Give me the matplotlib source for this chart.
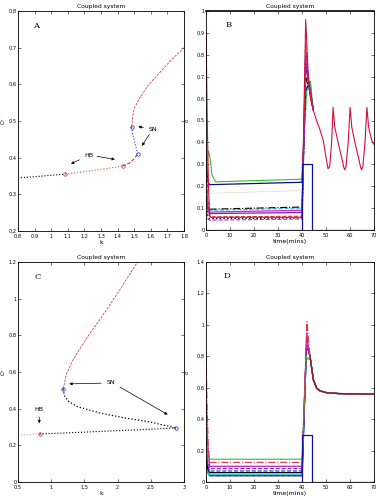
import matplotlib
matplotlib.use('Agg')
import matplotlib.pyplot as plt
import numpy as np

plt.rcParams['font.family'] = ['DejaVu Sans']

# ---------------- panel A : bifurcation in k ----------------
kA_low = [0.8, 0.9, 1.0, 1.086]
cA_low = [0.345, 0.348, 0.352, 0.355]
kA_mid = [1.086, 1.2, 1.3, 1.43]
cA_mid = [0.355, 0.362, 0.368, 0.377]
kA_stab = [1.43, 1.47, 1.50, 1.52]
cA_stab = [0.377, 0.385, 0.397, 0.41]
kA_uns = [1.52, 1.505, 1.49, 1.485]
cA_uns = [0.41, 0.44, 0.465, 0.484]
kA_up = [1.485, 1.49, 1.50, 1.53, 1.58, 1.65, 1.72, 1.8]
cA_up = [0.484, 0.51, 0.535, 0.56, 0.595, 0.63, 0.665, 0.70]
kA_hb = [1.086, 1.43]
cA_hb = [0.355, 0.377]
kA_sn = [1.52, 1.485]
cA_sn = [0.41, 0.484]

# ---------------- panel C : bifurcation in k ----------------
kC_low1 = [0.5, 0.827]
cC_low1 = [0.256, 0.262]
kC_low2 = [0.827, 1.5, 2.0, 2.5, 2.88]
cC_low2 = [0.262, 0.272, 0.28, 0.288, 0.295]
kC_mid = [1.18, 1.2, 1.26, 1.4, 1.75, 2.1, 2.49, 2.88]
cC_mid = [0.507, 0.47, 0.44, 0.41, 0.375, 0.35, 0.327, 0.295]
kC_up = [1.18, 1.23, 1.32, 1.45, 1.6, 1.75, 2.0, 2.3]
cC_up = [0.507, 0.59, 0.66, 0.737, 0.82, 0.895, 1.03, 1.2]
kC_hb = [0.827]
cC_hb = [0.262]
kC_sn = [1.18, 2.88]
cC_sn = [0.507, 0.295]

# ---------------- panel B : time courses ----------------
tB_tail = [44.6, 46, 47.5, 48.8, 50, 50.8, 51.5, 52.3, 52.9, 53.6, 55, 56.5,
           57.4, 57.8, 58.3, 59.2, 60, 60.7, 62, 63.5, 64.4, 64.8, 65.3, 66.2,
           67, 67.7, 69, 70]
cB_tail = [0.55, 0.5, 0.456, 0.41, 0.33, 0.28, 0.29, 0.40, 0.56, 0.47, 0.40,
           0.33, 0.285, 0.275, 0.29, 0.40, 0.56, 0.47, 0.40, 0.33, 0.285, 0.275,
           0.29, 0.40, 0.56, 0.47, 0.41, 0.39]

tB_red = [0, 0.5, 1, 1.5, 2, 40, 40.7, 41.5, 42.5, 43.5]
cB_red = [0.9, 0.5, 0.2, 0.07, 0.058, 0.058, 0.5, 0.96, 0.72, 0.60]
tB_green = [0, 1, 1.5, 2.5, 4, 40, 41, 42, 43.5, 44.6]
cB_green = [0.28, 0.36, 0.34, 0.25, 0.22, 0.232, 0.45, 0.65, 0.68, 0.55]
tB_navy = [0, 0.7, 1.5, 40, 40.3, 41.5, 43, 44.6]
cB_navy = [0.35, 0.22, 0.207, 0.218, 0.3, 0.64, 0.67, 0.55]
tB_faint = [2, 40]
cB_faint = [0.168, 0.18]
tB_cyan = [0, 1, 1.5, 40, 41.5, 43, 44.6]
cB_cyan = [0.06, 0.08, 0.09, 0.1, 0.62, 0.66, 0.55]
tB_black = [0, 1, 1.5, 40, 41.5, 43, 44.6]
cB_black = [0.2, 0.1, 0.095, 0.105, 0.7, 0.64, 0.55]
tB_mag = [0, 0.8, 1.5, 40, 41.5, 43, 44.6]
cB_mag = [0.25, 0.1, 0.082, 0.09, 0.8, 0.65, 0.55]
tB_purp = [0, 0.8, 1.5, 40, 41.5, 43, 44.6]
cB_purp = [0.15, 0.09, 0.075, 0.08, 0.75, 0.65, 0.55]
tB_redd = [0, 0.8, 1.5, 40, 41.5, 43, 44.6]
cB_redd = [0.4, 0.1, 0.06, 0.063, 0.85, 0.65, 0.55]
tB_blkd = [0, 0.8, 1.5, 40, 41.5, 43, 44.6]
cB_blkd = [0.12, 0.06, 0.052, 0.055, 0.8, 0.65, 0.55]
tB_magd = [0, 0.8, 1.5, 40, 41.5, 43, 44.6]
cB_magd = [0.08, 0.05, 0.045, 0.05, 0.8, 0.65, 0.55]

t_stim = [0, 40, 40, 44, 44, 70]
c_stim = [0, 0, 0.3, 0.3, 0, 0]

# ---------------- panel D : time courses ----------------
tD_tail = [43.3, 44.7, 46.1, 47.5, 50.3, 55, 60, 70]
cD_tail = [0.80, 0.65, 0.596, 0.58, 0.568, 0.563, 0.561, 0.56]

tD_red = [0, 0.5, 1, 1.5, 40, 42]
cD_red = [0.8, 0.45, 0.2, 0.125, 0.125, 1.02]
tD_green = [0, 1, 1.5, 40, 41.7, 42.5]
cD_green = [0.2, 0.16, 0.145, 0.145, 0.8, 0.78]
tD_mag = [0, 0.6, 1.5, 40, 42, 42.6]
cD_mag = [0.6, 0.25, 0.10, 0.10, 0.95, 0.85]
tD_purp = [0, 0.8, 1.5, 40, 41.8, 42.6]
cD_purp = [0.3, 0.12, 0.085, 0.085, 0.9, 0.85]
tD_navyd = [0, 0.8, 1.5, 40, 41.8, 42.6]
cD_navyd = [0.25, 0.1, 0.07, 0.07, 0.88, 0.85]
tD_black = [0, 0.8, 1.5, 40, 41.8, 42.6]
cD_black = [0.15, 0.08, 0.06, 0.06, 0.85, 0.84]
tD_cyan = [0, 0.8, 1.5, 40, 41.8, 42.6]
cD_cyan = [0.1, 0.06, 0.05, 0.05, 0.85, 0.84]
tD_cyand = [0, 0.8, 1.5, 40, 41.8, 42.6]
cD_cyand = [0.09, 0.05, 0.045, 0.045, 0.85, 0.84]
tD_navy = [0, 0.8, 1.5, 40, 41.8, 42.6]
cD_navy = [0.12, 0.06, 0.04, 0.04, 0.85, 0.84]

fig = plt.figure(figsize=(3.76, 5.0), dpi=100)
axA = fig.add_axes([0.0479, 0.538, 0.4415, 0.440])
axB = fig.add_axes([0.548, 0.540, 0.447, 0.438])
axC = fig.add_axes([0.0479, 0.036, 0.4415, 0.440])
axD = fig.add_axes([0.548, 0.036, 0.447, 0.440])

fs = 3.6
for ax in (axA, axB, axC, axD):
    ax.tick_params(direction='in', length=2, width=0.4, labelsize=fs, pad=1,
                   top=True, right=True)
    ax.tick_params(axis='x', pad=2.2)
    for s in ax.spines.values():
        s.set_linewidth(0.6)
    ax.set_title('Coupled system', fontsize=4.3, pad=2)

# panel A
axA.plot(kA_low, cA_low, ':', color='black', lw=0.8)
axA.plot(kA_mid, cA_mid, ':', color='#c06060', lw=0.8)
axA.plot(kA_stab, cA_stab, '--', color='#d02020', lw=0.7)
axA.plot(kA_uns, cA_uns, ':', color='#2040a0', lw=0.8)
axA.plot(kA_up, cA_up, '--', color='#d02020', lw=0.5)
axA.plot(kA_hb, cA_hb, 'o', mfc='none', mec='#d02020', ms=2.5, mew=0.5)
axA.plot(kA_sn, cA_sn, 'o', mfc='none', mec='#2020c0', ms=2.5, mew=0.5)
arr = dict(arrowstyle='-|>', color='black', lw=0.5, mutation_scale=4)
axA.annotate('HB', xy=(1.104, 0.38), xytext=(1.229, 0.407), fontsize=4.5,
             ha='center', va='center', arrowprops=arr)
axA.annotate('', xy=(1.40, 0.394), xytext=(1.26, 0.405), arrowprops=arr)
axA.annotate('SN', xy=(1.508, 0.486), xytext=(1.615, 0.478), fontsize=4.5,
             ha='center', va='center', arrowprops=arr)
axA.annotate('', xy=(1.538, 0.426), xytext=(1.60, 0.47), arrowprops=arr)
axA.text(0.907, 0.76, 'A', fontsize=6, family='serif', ha='center', va='center')
axA.set_xlim(0.8, 1.8)
axA.set_ylim(0.2, 0.8)
axA.set_xticks(np.arange(0.8, 1.81, 0.1))
axA.set_xticklabels(['0.8', '0.9', '1', '1.1', '1.2', '1.3', '1.4', '1.5', '1.6', '1.7', '1.8'])
axA.set_yticks(np.arange(0.2, 0.81, 0.1))
axA.set_yticklabels(['0.2', '0.3', '0.4', '0.5', '0.6', '0.7', '0.8'])
axA.set_xlabel('k', fontsize=4.5, labelpad=1)
axA.set_ylabel('$C_T$', fontsize=3.6)
axA.yaxis.set_label_coords(-0.06, 0.5)

# panel B
axB.plot(tB_faint, cB_faint, '-', color='#dcdcc8', lw=0.5)
axB.plot(tB_green, cB_green, '-', color='#30c030', lw=0.8)
axB.plot(tB_navy, cB_navy, '-', color='#10107a', lw=0.9)
axB.plot(tB_cyan, cB_cyan, '--', color='#20c0d0', lw=0.8)
axB.plot(tB_black, cB_black, '-.', color='black', lw=0.8)
axB.plot(tB_mag, cB_mag, '-', color='#e020c0', lw=0.9)
axB.plot(tB_purp, cB_purp, '-', color='#7020d0', lw=0.9)
axB.plot(tB_blkd, cB_blkd, ':', color='black', lw=1.0)
axB.plot(tB_magd, cB_magd, '--', color='#c030c0', lw=0.8)
axB.plot(tB_redd, cB_redd, '--', color='#e03050', lw=0.8)
axB.plot(tB_red + tB_tail, cB_red + cB_tail, '-', color='#d0103a', lw=0.8)
axB.plot(t_stim, c_stim, '-', color='#1010a0', lw=0.9)
axB.text(9.2, 0.935, 'B', fontsize=6, family='serif', ha='center', va='center')
axB.set_xlim(0, 70)
axB.set_ylim(0, 1)
axB.set_xticks(np.arange(0, 71, 10))
axB.set_yticks(np.arange(0, 1.01, 0.1))
axB.set_yticklabels(['0', '0.1', '0.2', '0.3', '0.4', '0.5', '0.6', '0.7', '0.8', '0.9', '1'])
axB.set_xlabel('time(mins)', fontsize=4.5, labelpad=1)
axB.set_ylabel('$c_i$', fontsize=3.8)
axB.yaxis.set_label_coords(-0.085, 0.5)
axB.spines['top'].set_linewidth(1.2)

# panel C
axC.plot(kC_low1, cC_low1, ':', color='#b0b0b0', lw=0.8)
axC.plot(kC_low2, cC_low2, ':', color='black', lw=0.8)
axC.plot(kC_mid, cC_mid, ':', color='black', lw=0.9)
axC.plot(kC_up, cC_up, '--', color='#d02020', lw=0.5)
axC.plot(kC_hb, cC_hb, 'o', mfc='none', mec='#d02020', ms=2.5, mew=0.5)
axC.plot(kC_sn, cC_sn, 'o', mfc='none', mec='#2020c0', ms=2.5, mew=0.5)
axC.annotate('HB', xy=(0.82, 0.305), xytext=(0.82, 0.398), fontsize=4.5,
             ha='center', va='center', arrowprops=arr)
axC.annotate('SN', xy=(1.23, 0.535), xytext=(1.9, 0.54), fontsize=4.5,
             ha='center', va='center', arrowprops=arr)
axC.annotate('', xy=(2.79, 0.36), xytext=(2.0, 0.525), arrowprops=arr)
axC.text(0.8, 1.12, 'C', fontsize=6, family='serif', ha='center', va='center')
axC.set_xlim(0.5, 3)
axC.set_ylim(0, 1.2)
axC.set_xticks([0.5, 1, 1.5, 2, 2.5, 3])
axC.set_xticklabels(['0.5', '1', '1.5', '2', '2.5', '3'])
axC.set_yticks(np.arange(0, 1.21, 0.2))
axC.set_yticklabels(['0', '0.2', '0.4', '0.6', '0.8', '1', '1.2'])
axC.set_xlabel('k', fontsize=4.5, labelpad=1)
axC.set_ylabel('$C_T$', fontsize=3.6)
axC.yaxis.set_label_coords(-0.06, 0.5)

# panel D
axD.plot(tD_navy + tD_tail, cD_navy + cD_tail, '-', color='#10107a', lw=1.0)
axD.plot(tD_cyand + tD_tail, cD_cyand + cD_tail, '--', color='#20c0d0', lw=0.8)
axD.plot(tD_cyan + tD_tail, cD_cyan + cD_tail, '-', color='#20c0d0', lw=0.8)
axD.plot(tD_black + tD_tail, cD_black + cD_tail, '-', color='black', lw=0.8)
axD.plot(tD_navyd + tD_tail, cD_navyd + cD_tail, '--', color='#2020c0', lw=0.8)
axD.plot(tD_purp + tD_tail, cD_purp + cD_tail, '--', color='#8020d0', lw=0.8)
axD.plot(tD_mag + tD_tail, cD_mag + cD_tail, '-', color='#c020c0', lw=0.9)
axD.plot(tD_green + tD_tail, cD_green + cD_tail, '-', color='#30c030', lw=0.8)
axD.plot(tD_red + tD_tail, cD_red + cD_tail, '-.', color='#e03050', lw=0.8)
axD.plot(tD_tail, cD_tail, '-', color='#a01030', lw=0.8)
axD.plot(t_stim, c_stim, '-', color='#1010a0', lw=0.9)
axD.text(8.8, 1.31, 'D', fontsize=6, family='serif', ha='center', va='center')
axD.set_xlim(0, 70)
axD.set_ylim(0, 1.4)
axD.set_xticks(np.arange(0, 71, 10))
axD.set_yticks(np.arange(0, 1.41, 0.2))
axD.set_yticklabels(['0', '0.2', '0.4', '0.6', '0.8', '1', '1.2', '1.4'])
axD.set_xlabel('time(mins)', fontsize=4.5, labelpad=1)
axD.set_ylabel('$c_i$', fontsize=3.8)
axD.yaxis.set_label_coords(-0.085, 0.5)

fig.savefig('out.png', dpi=100)
